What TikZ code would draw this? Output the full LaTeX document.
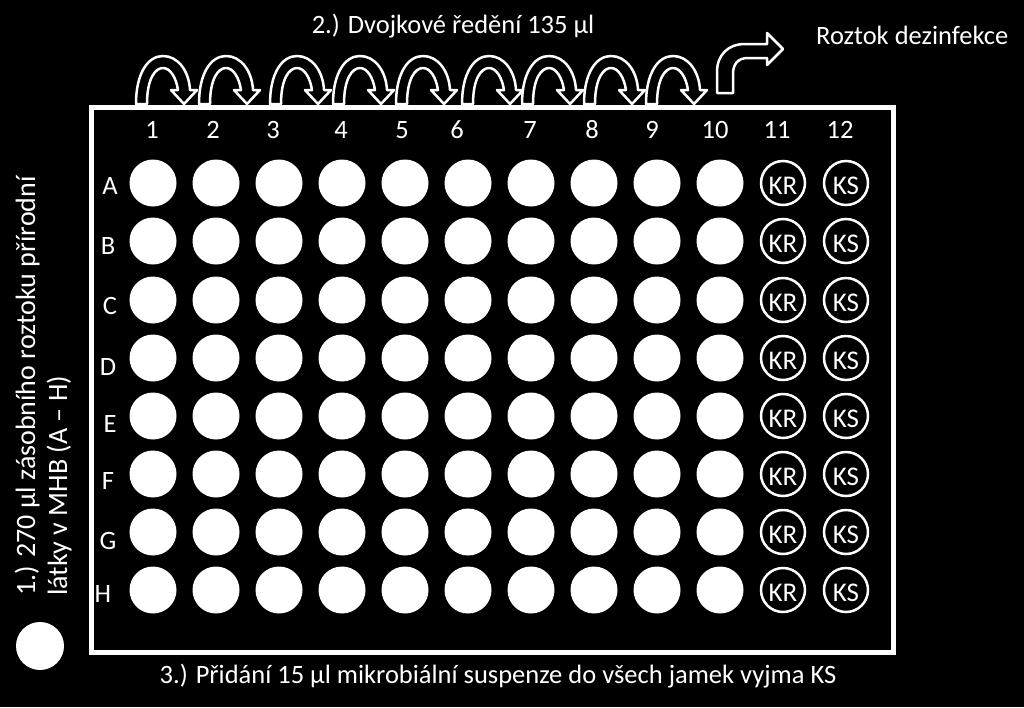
\documentclass[tikz,border=0pt]{standalone}
\usepackage{fontspec}
\setmainfont{Carlito}
\newcommand{\platecolor}{white}
\newcommand{\rim}{2.5pt}
\newcommand{\wellsize}{47pt}

\tikzset{
  well/.style={circle, fill=\platecolor, minimum size=\wellsize, inner sep=0pt},
  ctrlwell/.style={circle, draw=\platecolor, line width=\rim, minimum size=44pt, inner sep=0pt, text height=22pt, text depth=0pt, font=\fontsize{27}{27}\selectfont},
  txt/.style={inner sep=0pt, font=\fontsize{26.5}{32}\selectfont},
  sidetxt/.style={inner sep=0pt, rotate=90, anchor=base west, font=\fontsize{28}{34}\selectfont},
  blockarrow/.style={draw=\platecolor, fill=black, line width=\rim, line join=round},
  halfloop/.pic={
    \draw[blockarrow] (0,0) .. controls (0,-31) and (12,-48) .. (27,-48)
      .. controls (42,-48) and (53,-33) .. (54,-14) -- (61,-14) -- (48,0) -- (35,-14) -- (42,-14)
      .. controls (40,-27) and (34,-36) .. (27,-36) .. controls (19,-36) and (11,-25) .. (11,0) -- cycle;
  }
}

\begin{document}
\begin{tikzpicture}[x=1pt, y=-1pt, white]
\fill[black] (0,0) rectangle (1024,707);
\useasboundingbox (0,0) rectangle (1024,707);
%dilution steps
\foreach \x in {136,199,270,333,396,462,522,584,646}
  \pic at (\x,104) {halfloop};
%to disinfectant
\draw[blockarrow] (717,93) -- (717,72) .. controls (717,55) and (728,44) .. (745,44) -- (767,44) -- (767,33)
  -- (783,49) -- (767,65) -- (767,58) -- (748,58) .. controls (738,58) and (733,64) .. (733,74) -- (733,93) -- cycle;
%plate
\draw[line width=5pt] (91,107.5) rectangle (893,652);
\foreach \c/\x in {1/152,2/213,3/273,4/341,5/402,6/457,7/530,8/592,9/652,10/715,11/777,12/840}
  \node[txt, anchor=base] (col\c) at (\x,138) {\c};
\foreach \r/\x/\y/\b in {A/110/183/194,B/108/241/254,C/110/300/314,D/108/358/375,E/110/416/432,F/108/474/489,G/108/532/549,H/103/590/602}{
  \node[txt, anchor=base] (row\r) at (\x,\b) {\r};
  \foreach \c in {1,...,10}
    \node[well] (\r\c) at ({153+63*(\c-1)},\y) {};
  \node[ctrlwell] (\r11) at (783,\y) {KR};
  \node[ctrlwell] (\r12) at (846,\y) {KS};
}
%texts
\node[txt, anchor=base] (dilution) at (453,33) {2.) Dvojkové ředění 135 µl};
\node[txt, anchor=base west] (disinfectant) at (816,44) {Roztok dezinfekce};
\node[txt, anchor=base] (suspension) at (498,683) {3.) Přidání 15 µl mikrobiální suspenze do všech jamek vyjma KS};
\node[sidetxt] (stock1) at (35,596) {1.) 270 µl zásobního roztoku přírodní};
\node[sidetxt] (stock2) at (67,596) {látky v MHB (A – H)};
\node[well, minimum size=48pt] (sample) at (40,646) {};
\end{tikzpicture}
\end{document}
